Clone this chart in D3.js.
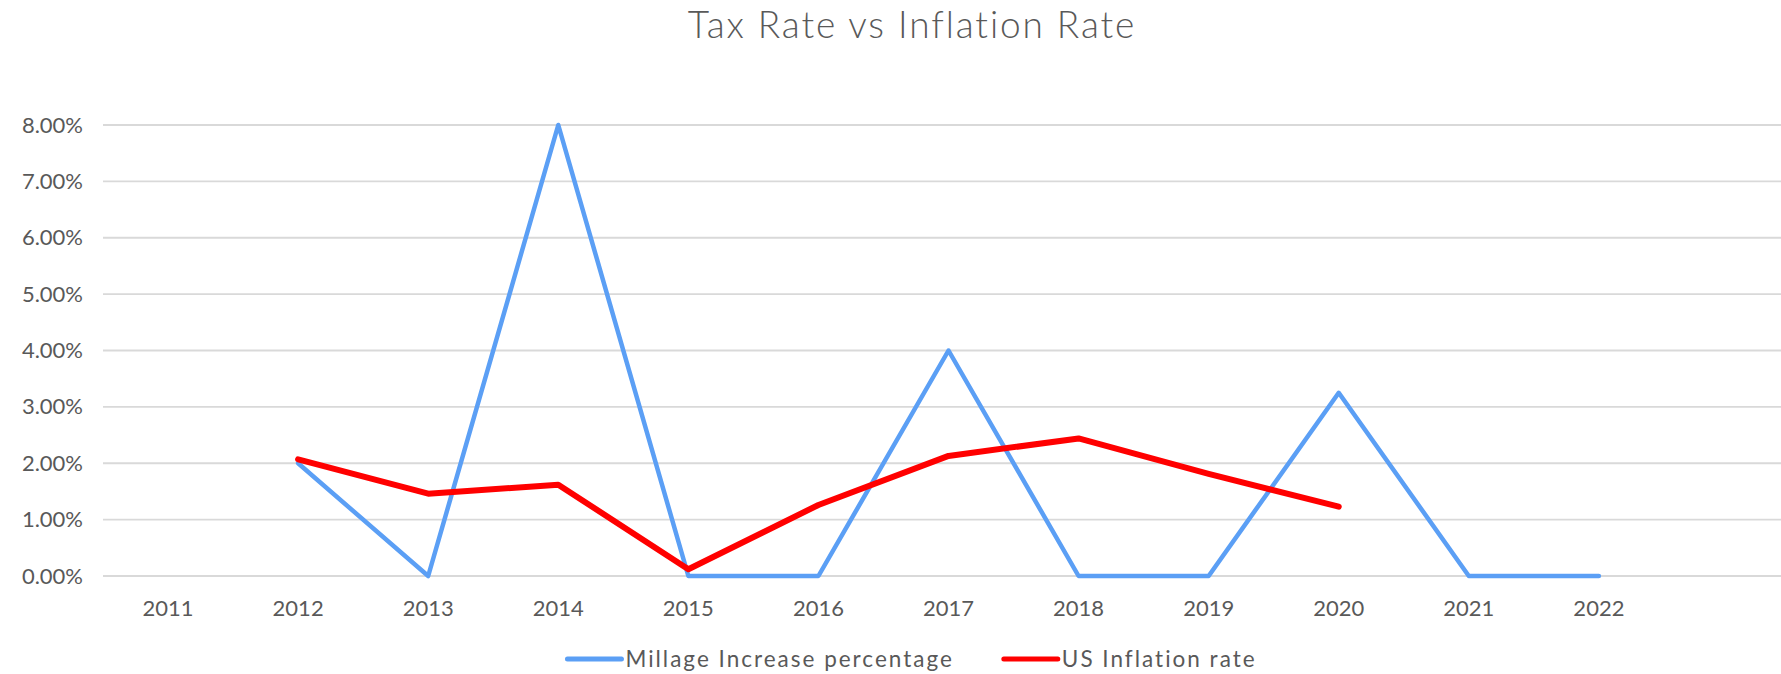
<!DOCTYPE html>
<html>
<head>
<meta charset="utf-8">
<script src="https://cdn.jsdelivr.net/npm/d3@7"></script>
<style>
    body { margin: 0; background: #fff; }
    text { font-family: "Lato", "Open Sans", sans-serif; fill: #595959; }
</style>
</head>
<body>
<div id="chart"></div>
<script>
// categories (last slot is an empty row in the sheet)
const years = ["2011", "2012", "2013", "2014", "2015", "2016", "2017", "2018", "2019", "2020", "2021", "2022", ""];
// Millage Increase percentage
const millage = [null, 0.02, 0, 0.08, 0, 0, 0.04, 0, 0, 0.0325, 0, 0, null];
// US Inflation rate
const inflation = [null, 0.0207, 0.0146, 0.0162, 0.0012, 0.0126, 0.0213, 0.0244, 0.0181, 0.0123, null, null, null];
const yTicks = [0, 0.01, 0.02, 0.03, 0.04, 0.05, 0.06, 0.07, 0.08];

const seriesNames = ["Millage Increase percentage", "US Inflation rate"];
const seriesColors = ["#5b9ff5", "#ff0000"];

function drawChart() {
    //DIMENSIONS (chart is a little wider than the window, right side is cut off)
    let dimensions = {
        width: 1781,
        height: 674,
        chartWidth: 1824,
        margin: {
            top: 125,
            right: 30,
            bottom: 98,
            left: 103,
        },
    }
    dimensions.boundedWidth = dimensions.chartWidth - dimensions.margin.left - dimensions.margin.right;
    dimensions.boundedHeight = dimensions.height - dimensions.margin.top - dimensions.margin.bottom;

    //SCALES
    const xScale = d3.scaleBand()
        .domain(years)
        .range([0, dimensions.boundedWidth]);

    const yScale = d3.scaleLinear()
        .domain([0, 0.08])
        .range([dimensions.boundedHeight, 0]);

    const fmt = d3.format(".2%");

    //WRAPPER
    const wrapper = d3.select("#chart").append("svg")
        .attr("width", dimensions.width)
        .attr("height", dimensions.height)

    //TITLE
    wrapper.append("text")
        .attr("x", dimensions.chartWidth / 2)
        .attr("y", 38)
        .attr("text-anchor", "middle")
        .attr("font-size", "37px")
        .attr("font-weight", 300)
        .attr("letter-spacing", "1.9px")
        .text("Tax Rate vs Inflation Rate")

    const bounds = wrapper.append("g")
        .attr("transform", `translate(${dimensions.margin.left}, ${dimensions.margin.top})`)

    //GRID
    bounds.append("g")
        .selectAll("line")
        .data(yTicks)
        .enter()
        .append("line")
        .attr("x1", 0)
        .attr("x2", dimensions.boundedWidth)
        .attr("y1", d => yScale(d))
        .attr("y2", d => yScale(d))
        .attr("stroke", "#d9d9d9")
        .attr("stroke-width", 1.8)

    //Y AXIS
    const yAxis = d3.axisLeft(yScale)
        .tickValues(yTicks)
        .tickFormat(fmt)
        .tickSize(0)
        .tickPadding(20);
    const yAxisG = bounds.append("g").call(yAxis);
    yAxisG.select(".domain").remove();
    yAxisG.selectAll("text")
        .attr("font-size", "22px")
        .attr("fill", "#595959")
        .style("font-family", null);

    //X AXIS
    const xAxis = d3.axisBottom(xScale)
        .tickSize(0)
        .tickPadding(24);
    const xAxisG = bounds.append("g")
        .attr("transform", `translate(0, ${dimensions.boundedHeight})`)
        .call(xAxis);
    xAxisG.select(".domain").remove();
    xAxisG.selectAll("text")
        .attr("font-size", "22px")
        .attr("fill", "#595959")
        .style("font-family", null);

    //LINES
    const xPos = (d, i) => xScale(years[i]) + xScale.bandwidth() / 2;
    const lineGen = d3.line()
        .defined(d => d != null)
        .x(xPos)
        .y(d => yScale(d));

    bounds.append("path")
        .datum(millage)
        .attr("d", lineGen)
        .attr("fill", "none")
        .attr("stroke", seriesColors[0])
        .attr("stroke-width", 4.5)
        .attr("stroke-linejoin", "round")
        .attr("stroke-linecap", "round")

    bounds.append("path")
        .datum(inflation)
        .attr("d", lineGen)
        .attr("fill", "none")
        .attr("stroke", seriesColors[1])
        .attr("stroke-width", 6)
        .attr("stroke-linejoin", "round")
        .attr("stroke-linecap", "round")

    //LEGEND
    const legendY = 659;
    const legend = wrapper.append("g").attr("class", "legend");
    const items = legend.selectAll("g")
        .data(seriesNames)
        .enter()
        .append("g");
    items.append("line")
        .attr("x1", 0).attr("x2", 54)
        .attr("y1", 0).attr("y2", 0)
        .attr("stroke", (d, i) => seriesColors[i])
        .attr("stroke-width", 5)
        .attr("stroke-linecap", "round")
    items.append("text")
        .attr("x", 58)
        .attr("y", 0)
        .attr("dy", "0.35em")
        .attr("font-size", "22.5px")
        .attr("letter-spacing", "2px")
        .text(d => d)

    // lay out legend items side by side, centred under the chart
    let offset = 0;
    const gap = 50;
    items.each(function () {
        const w = this.getBBox().width;
        d3.select(this).attr("transform", `translate(${offset}, ${legendY})`);
        offset += w + gap;
    });
    const totalW = offset - gap;
    legend.attr("transform", `translate(${dimensions.chartWidth / 2 - totalW / 2}, 0)`);
}

drawChart();
</script>
</body>
</html>
